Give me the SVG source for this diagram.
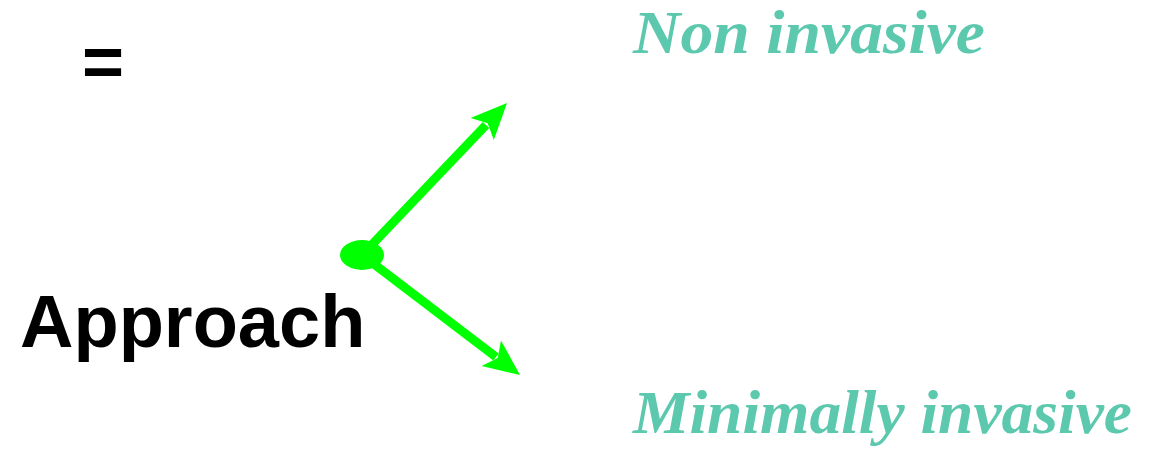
<svg xmlns="http://www.w3.org/2000/svg" width="1153" height="451" viewBox="0 0 1153 451">
<style>
.lbl{font-family:"Liberation Sans",Arial,sans-serif;font-weight:bold;fill:#000}
.opt{font-family:"Liberation Serif","Times New Roman",serif;font-weight:bold;font-style:italic;fill:#5CC8AD}
.arr{stroke:#00FF00;stroke-width:9;fill:none}
.head{fill:#00FF00}
</style>
<g id="eq"><text class="lbl" x="82" y="86" font-size="72">=</text></g>
<g id="approach"><text class="lbl" x="20" y="347" font-size="74">Approach</text></g>
<g id="non-invasive"><text class="opt" x="633" y="53" font-size="62" textLength="352" lengthAdjust="spacingAndGlyphs">Non invasive</text></g>
<g id="minimally-invasive"><text class="opt" x="633" y="433" font-size="62" textLength="499" lengthAdjust="spacingAndGlyphs">Minimally invasive</text></g>
<g id="connectors">
<ellipse cx="362" cy="255" rx="22" ry="15" fill="#00FF00"/>
<line class="arr" x1="362" y1="255" x2="486" y2="125"/>
<polygon class="head" points="507,103 493.8,140.1 487.7,123.3 470.6,118.1"/>
<line class="arr" x1="362" y1="255" x2="496" y2="357"/>
<polygon class="head" points="520,375 481.6,365.9 497.7,358.1 501,340.5"/>
</g>
</svg>
